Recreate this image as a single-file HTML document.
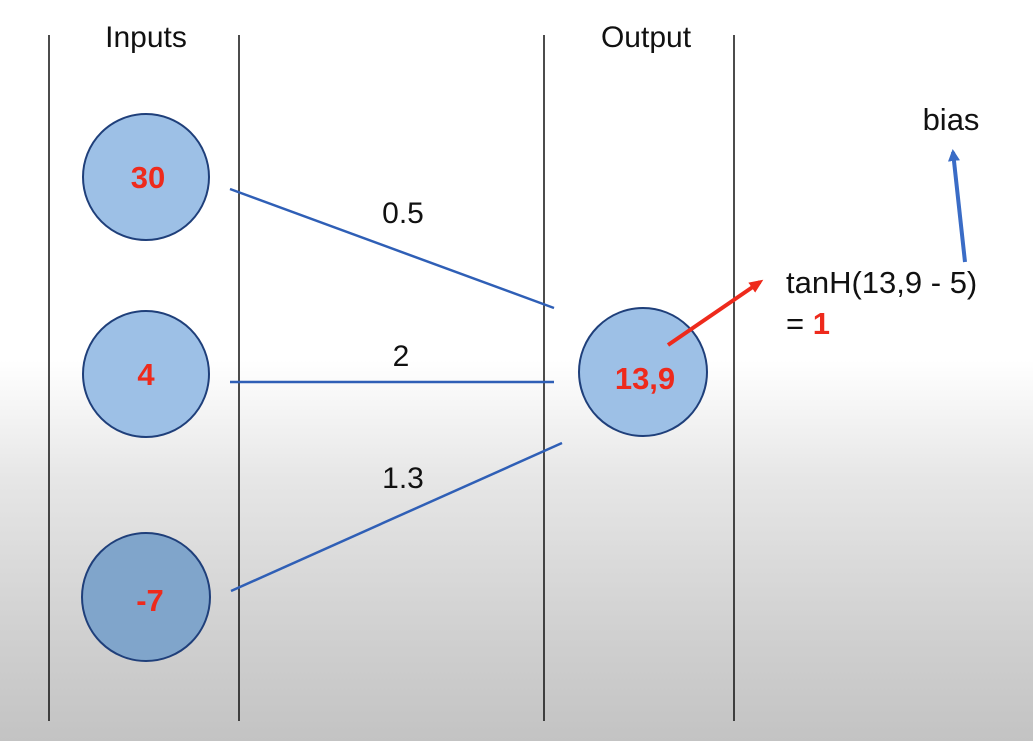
<!DOCTYPE html>
<html><head><meta charset="utf-8"><style>
html,body{margin:0;padding:0}
body{width:1033px;height:741px;overflow:hidden;background:linear-gradient(to bottom,#fff 0px,#fff 360px,#e6e6e6 480px,#d2d2d2 620px,#c3c3c3 741px);font-family:"Liberation Sans","DejaVu Sans",sans-serif}
</style></head><body>
<svg width="1033" height="741" viewBox="0 0 1033 741" xmlns="http://www.w3.org/2000/svg">
<defs>
<marker id="ar" markerWidth="14" markerHeight="12" refX="10" refY="6" orient="auto" markerUnits="userSpaceOnUse"><path d="M0,0 L14,6 L0,12 z" fill="#ee2a1c"/></marker>
<marker id="ab" markerWidth="12" markerHeight="12" refX="9" refY="6" orient="auto" markerUnits="userSpaceOnUse"><path d="M0,0 L12,6 L0,12 z" fill="#3a6cc6"/></marker>
</defs>
<g stroke="#111" stroke-width="1.5">
<line x1="49" y1="35" x2="49" y2="721"/>
<line x1="239" y1="35" x2="239" y2="721"/>
<line x1="544" y1="35" x2="544" y2="721"/>
<line x1="734" y1="35" x2="734" y2="721"/>
</g>
<text x="146" y="47" font-size="30" text-anchor="middle" fill="#111">Inputs</text>
<text x="646" y="47" font-size="30" text-anchor="middle" fill="#111">Output</text>
<g stroke="#2f5fb6" stroke-width="2.5">
<line x1="230" y1="189" x2="554" y2="308"/>
<line x1="230" y1="382" x2="554" y2="382"/>
<line x1="231" y1="591" x2="562" y2="443"/>
</g>
<g font-size="30" fill="#111" text-anchor="middle">
<text x="403" y="223">0.5</text>
<text x="401" y="366">2</text>
<text x="403" y="488">1.3</text>
</g>
<g stroke="#1f3f7a" stroke-width="2">
<circle cx="146" cy="177" r="63" fill="#9dc0e6"/>
<circle cx="146" cy="374" r="63" fill="#9dc0e6"/>
<circle cx="146" cy="597" r="64" fill="#80a5cb"/>
<circle cx="643" cy="372" r="64" fill="#9dc0e6"/>
</g>
<g font-size="31" font-weight="bold" fill="#ee2a1c" text-anchor="middle">
<text x="148" y="188">30</text>
<text x="146" y="385">4</text>
<text x="150" y="611">-7</text>
<text x="645" y="389">13,9</text>
</g>
<line x1="668" y1="345" x2="760" y2="282" stroke="#ee2a1c" stroke-width="4" marker-end="url(#ar)"/>
<line x1="965" y1="262" x2="953" y2="152" stroke="#3a6cc6" stroke-width="4" marker-end="url(#ab)"/>
<text x="951" y="130" font-size="31" text-anchor="middle" fill="#111">bias</text>
<text x="786" y="293" font-size="31" fill="#111">tanH(13,9 - 5)</text>
<text x="786" y="334" font-size="31" fill="#111">= <tspan fill="#ee2a1c" font-weight="bold">1</tspan></text>
</svg>
</body></html>
